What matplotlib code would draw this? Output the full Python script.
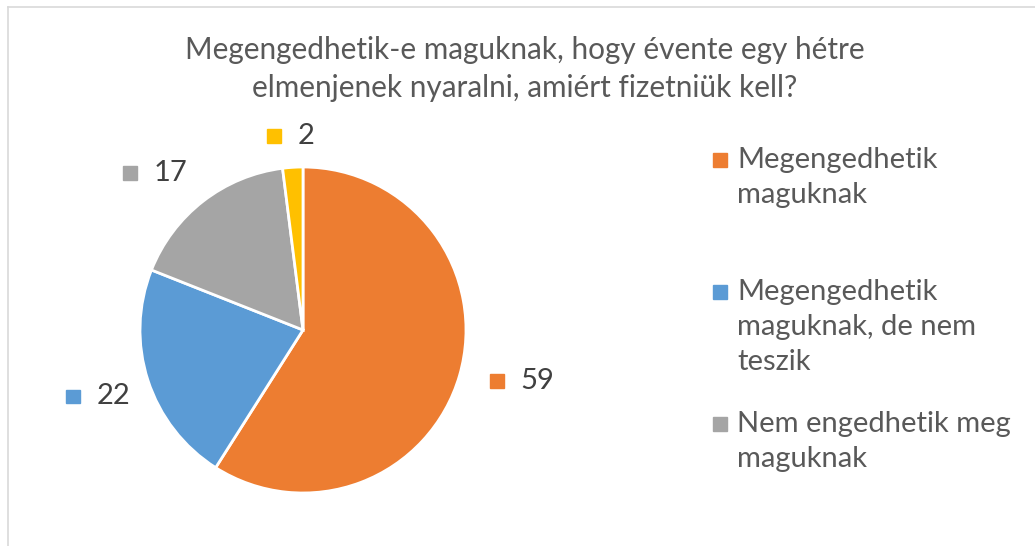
import matplotlib.pyplot as plt
from matplotlib.lines import Line2D
from matplotlib.patches import Rectangle
from matplotlib.offsetbox import AnnotationBbox, DrawingArea, HPacker, TextArea
import numpy as np

plt.rcParams['font.family'] = ['Lato', 'DejaVu Sans']

title = "Megengedhetik-e maguknak, hogy évente egy hétre\nelmenjenek nyaralni, amiért fizetniük kell?"
categories = ["Megengedhetik\nmaguknak",
              "Megengedhetik\nmaguknak, de nem\nteszik",
              "Nem engedhetik meg\nmaguknak",
              "Nem tudja"]
values = [59, 22, 17, 2]
colors = ['#ED7D31', '#5B9BD5', '#A5A5A5', '#FFC000']
legend_count = 3  # the fourth entry is cut off in the original

W, H = 1035, 546
fig = plt.figure(figsize=(W / 100, H / 100), dpi=100)

# frame of the chart area (only top and left edges are visible)
fig.add_artist(Line2D([8 / W, 1], [1 - 7 / H, 1 - 7 / H], color='#d9d9d9', lw=1.2))
fig.add_artist(Line2D([8 / W, 8 / W], [0, 1 - 7 / H], color='#d9d9d9', lw=1.2))

fig.text(525 / W, 1 - 69 / H, title, ha='center', va='center', fontsize=21.4,
         color='#595959', linespacing=1.4)

# pie: centre (303, 330) px, radius 163 px
cx, cy, r = 303, 330, 163
ax = fig.add_axes([(cx - r) / W, (H - cy - r) / H, 2 * r / W, 2 * r / H])
wedges, _ = ax.pie(values, colors=colors, startangle=90, counterclock=False,
                   radius=1, wedgeprops=dict(edgecolor='white', linewidth=2))
ax.set_xlim(-1, 1)
ax.set_ylim(-1, 1)
ax.set_aspect('equal')
ax.axis('off')

# data labels: coloured square + value, placed outside each wedge
# (distance in radii, angular nudge in degrees, mimicking Excel's best fit)
label_dist = [1.38, 1.32, 1.32, 1.19]
label_rot = [3.0, 0.0, 5.5, 0.0]
for w, v, c, d, rot in zip(wedges, values, colors, label_dist, label_rot):
    ang = np.deg2rad((w.theta1 + w.theta2) / 2 + rot)
    x, y = d * np.cos(ang), d * np.sin(ang)
    da = DrawingArea(10, 10)
    da.add_artist(Rectangle((0, 0), 10, 10, color=c))
    ta = TextArea(str(v), textprops=dict(fontsize=21, color='#404040'))
    box = HPacker(children=[da, ta], align='center', pad=0, sep=12)
    ab = AnnotationBbox(box, (x, y), xycoords='data', frameon=False,
                        box_alignment=(0.5, 0.5), annotation_clip=False)
    ax.add_artist(ab)

# legend drawn manually with equal slot heights (Excel style)
for i in range(legend_count):
    ytop = 160 + 132 * i
    fig.add_artist(Rectangle((713 / W, 1 - (ytop + 7) / H), 14 / W, 14 / H,
                             color=colors[i], transform=fig.transFigure))
    fig.text(737 / W, 1 - (ytop - 13) / H, categories[i], ha='left', va='top',
             fontsize=21, color='#595959', linespacing=1.42)

fig.savefig('out.png', dpi=100)
